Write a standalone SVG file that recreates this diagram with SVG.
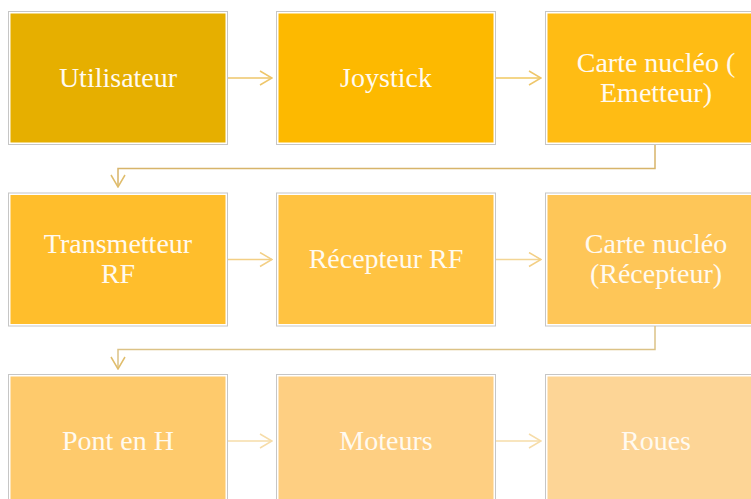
<svg xmlns="http://www.w3.org/2000/svg" width="751" height="499" viewBox="0 0 751 499">
  <defs>
    <style>
      .frame { fill: #ffffff; stroke: #c6c6c6; stroke-width: 1; }
      .label { font-family: "Liberation Serif", "Times New Roman", serif; font-size: 28px; fill: #fffaf0; text-anchor: middle; }
      .conn { fill: none; stroke-width: 1.5; }
    </style>
    <marker id="chev1" viewBox="0 0 14 16" refX="13" refY="8" markerWidth="14" markerHeight="16" markerUnits="userSpaceOnUse" orient="auto">
      <path d="M1,1 L13,8 L1,15" fill="none" stroke="#eec66a" stroke-width="1.5"/>
    </marker>
    <marker id="chev2" viewBox="0 0 14 16" refX="13" refY="8" markerWidth="14" markerHeight="16" markerUnits="userSpaceOnUse" orient="auto">
      <path d="M1,1 L13,8 L1,15" fill="none" stroke="#f3cf85" stroke-width="1.5"/>
    </marker>
    <marker id="chev3" viewBox="0 0 14 16" refX="13" refY="8" markerWidth="14" markerHeight="16" markerUnits="userSpaceOnUse" orient="auto">
      <path d="M1,1 L13,8 L1,15" fill="none" stroke="#f6dca8" stroke-width="1.5"/>
    </marker>
    <marker id="chevBend" viewBox="0 0 14 16" refX="13" refY="8" markerWidth="14" markerHeight="16" markerUnits="userSpaceOnUse" orient="auto">
      <path d="M1,1 L13,8 L1,15" fill="none" stroke="#e0bd6c" stroke-width="1.5"/>
    </marker>
  </defs>

  <rect width="751" height="499" fill="#ffffff"/>

  <!-- Row 1 -->
  <g id="utilisateur">
    <rect class="frame" x="8.5" y="11.5" width="219" height="133"/>
    <rect x="10.5" y="13.5" width="215" height="129" fill="#e6af00"/>
    <text class="label" x="118" y="87">Utilisateur</text>
  </g>
  <g id="joystick">
    <rect class="frame" x="276.5" y="11.5" width="219" height="133"/>
    <rect x="278.5" y="13.5" width="215" height="129" fill="#fdb900"/>
    <text class="label" x="386" y="87">Joystick</text>
  </g>
  <g id="carte-emetteur">
    <rect class="frame" x="545.5" y="11.5" width="219" height="133"/>
    <rect x="547.5" y="13.5" width="215" height="129" fill="#ffbc14"/>
    <text class="label" x="656" y="72">Carte nucléo (</text>
    <text class="label" x="656" y="102">Emetteur)</text>
  </g>

  <!-- Row 2 -->
  <g id="transmetteur">
    <rect class="frame" x="8.5" y="193" width="219" height="133"/>
    <rect x="10.5" y="195" width="215" height="129" fill="#ffbe2c"/>
    <text class="label" x="118" y="253">Transmetteur</text>
    <text class="label" x="118" y="283">RF</text>
  </g>
  <g id="recepteur-rf">
    <rect class="frame" x="276.5" y="193" width="219" height="133"/>
    <rect x="278.5" y="195" width="215" height="129" fill="#ffc342"/>
    <text class="label" x="386" y="268">Récepteur RF</text>
  </g>
  <g id="carte-recepteur">
    <rect class="frame" x="545.5" y="193" width="219" height="133"/>
    <rect x="547.5" y="195" width="215" height="129" fill="#fec658"/>
    <text class="label" x="656" y="253">Carte nucléo</text>
    <text class="label" x="656" y="283">(Récepteur)</text>
  </g>

  <!-- Row 3 -->
  <g id="pont-h">
    <rect class="frame" x="8.5" y="374.5" width="219" height="133"/>
    <rect x="10.5" y="376.5" width="215" height="129" fill="#feca6c"/>
    <text class="label" x="118" y="450">Pont en H</text>
  </g>
  <g id="moteurs">
    <rect class="frame" x="276.5" y="374.5" width="219" height="133"/>
    <rect x="278.5" y="376.5" width="215" height="129" fill="#fecf82"/>
    <text class="label" x="386" y="450">Moteurs</text>
  </g>
  <g id="roues">
    <rect class="frame" x="545.5" y="374.5" width="219" height="133"/>
    <rect x="547.5" y="376.5" width="215" height="129" fill="#fdd596"/>
    <text class="label" x="656" y="450">Roues</text>
  </g>

  <!-- Connectors -->
  <g id="connectors">
    <path class="conn" d="M228,78 H272" stroke="#eec66a" marker-end="url(#chev1)"/>
    <path class="conn" d="M496,78 H541" stroke="#f0c860" marker-end="url(#chev1)"/>
    <path class="conn" d="M655,145 V168.5 H118 V187" stroke="#d7b46a" marker-end="url(#chevBend)"/>
    <path class="conn" d="M228,259.5 H272" stroke="#f3cf85" marker-end="url(#chev2)"/>
    <path class="conn" d="M496,259.5 H541" stroke="#f3d595" marker-end="url(#chev2)"/>
    <path class="conn" d="M655,326 V349.5 H118 V369" stroke="#dcc286" marker-end="url(#chevBend)"/>
    <path class="conn" d="M228,441 H272" stroke="#f6dca8" marker-end="url(#chev3)"/>
    <path class="conn" d="M496,441 H541" stroke="#f6dca8" marker-end="url(#chev3)"/>
  </g>
</svg>
